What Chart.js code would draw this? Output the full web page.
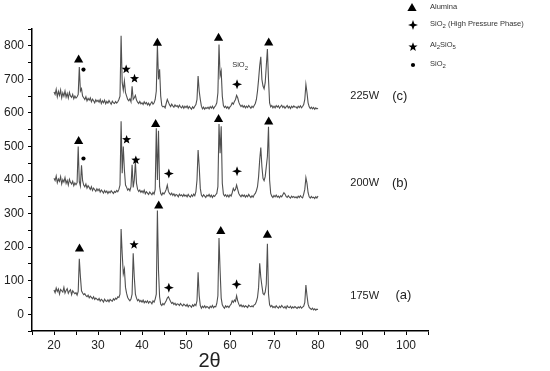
<!DOCTYPE html>
<html>
<head>
<meta charset="utf-8">
<script src="https://cdn.jsdelivr.net/npm/chart.js@4.4.1/dist/chart.umd.min.js"></script>
<style>
  html, body { margin: 0; padding: 0; background: #fff; }
  #wrap { width: 550px; height: 371px; }
</style>
</head>
<body>
<div id="wrap"><canvas id="xrd" width="550" height="371"></canvas></div>
<script>
// balayage 2θ : de 20 à 80 par pas de 0.25
const scanStart = 20, scanStep = 0.25, scanCount = 241;
const twoTheta = [];
for (let i = 0; i < scanCount; i++) twoTheta.push(scanStart + i * scanStep);

// intensités (blocs de 5°)
const w175 = [
  72,64,78,68,75,60,74,70,66,80,63,71,76,62,69,73,58,70,65,61,
  64,57,68,165,112,70,63,58,61,55,52,57,49,54,50,46,52,44,48,45,
  42,47,39,44,41,36,45,40,38,43,37,44,41,39,46,42,48,45,52,50,
  60,254,180,120,135,80,62,50,44,40,45,60,182,110,60,48,40,44,37,41,
  36,42,34,39,35,40,33,38,36,31,40,36,45,60,309,130,52,30,26,32,
  28,34,40,48,52,45,38,32,35,29,33,27,31,30,26,32,28,25,30,27,
  24,29,22,27,25,21,28,24,30,26,40,125,55,26,18,24,20,25,19,23,
  21,17,24,20,26,19,23,22,32,55,227,130,48,28,22,18,25,21,24,20,
  26,30,40,35,42,38,55,40,30,24,28,22,26,21,25,23,20,27,24,22,
  25,22,28,30,38,50,80,152,110,85,62,58,66,90,210,60,28,22,26,20,
  23,19,25,21,18,24,20,26,22,19,23,17,25,21,20,24,18,22,19,23,
  20,17,22,19,23,18,21,24,35,87,55,30,20,17,14,18,13,16,12,15,
  14
];
const w200 = [
  405,398,412,392,403,396,410,388,401,394,407,390,399,385,402,393,388,396,383,391,
  386,392,500,395,382,444,398,385,380,388,376,383,378,372,380,369,376,371,366,374,
  368,373,364,370,366,361,369,363,367,360,366,362,368,364,360,366,363,369,365,372,
  385,575,420,500,430,385,378,370,374,368,380,445,378,400,455,390,372,366,370,363,
  368,362,370,359,365,361,357,364,360,356,363,358,372,554,400,547,380,360,355,362,
  358,364,372,385,366,360,356,361,354,359,352,357,355,350,358,353,356,351,357,352,
  355,350,357,352,349,356,351,358,353,365,400,489,440,375,355,350,356,352,348,355,
  352,357,350,355,348,354,351,356,360,380,567,480,560,390,358,352,356,350,355,349,
  356,352,362,375,368,372,385,372,360,354,350,356,351,355,349,354,350,357,352,348,
  353,349,356,360,368,380,410,460,497,440,405,398,410,440,470,559,400,360,352,348,
  354,350,355,349,352,347,353,350,356,362,358,351,348,353,349,346,352,348,351,347,
  350,346,352,348,353,349,347,358,372,407,390,362,350,346,351,347,349,345,350,346,
  352
];
const w225 = [
  662,655,670,648,664,652,668,645,660,650,665,647,658,644,661,650,646,655,642,650,
  644,648,655,737,665,672,650,645,640,648,636,643,638,645,633,641,636,630,639,634,
  638,632,640,628,636,630,638,627,634,629,637,631,626,635,630,628,634,629,633,640,
  650,830,690,668,695,660,650,640,636,642,633,679,640,645,652,638,632,628,634,627,
  630,625,633,627,631,624,629,622,628,633,626,630,640,665,802,700,730,650,622,618,
  620,615,628,640,632,624,619,626,621,617,624,619,622,616,623,618,615,621,614,620,
  616,621,613,619,615,611,618,614,620,625,640,710,665,640,620,612,617,611,616,613,
  617,612,619,614,620,613,618,622,630,660,804,710,725,650,622,616,620,614,618,612,
  618,622,630,626,634,640,652,645,632,624,619,623,617,621,615,620,616,622,618,614,
  620,616,622,628,640,665,700,740,767,700,680,672,690,740,790,700,630,618,622,615,
  620,615,622,617,621,614,619,623,616,620,614,618,622,615,619,613,620,616,621,617,
  618,614,620,616,621,615,619,625,640,685,660,630,618,613,617,612,616,611,615,612,
  614
];

// repères de phases [2θ, intensité]
const aluminaMarks = [[25.6,762],[43.5,812],[57.4,827],[68.8,813],
                      [25.6,519],[43.1,570],[57.4,585],[68.8,577],
                      [25.8,199],[43.8,327],[57.9,251],[68.5,240]];
const al2sio5Marks = [[36.4,730],[38.3,702],[36.5,520],[38.6,459],[38.2,207]];
const sio2HpMarks = [[61.6,685],[46.1,419],[61.6,426],[46.1,79],[61.5,89]];
const sio2Marks = [[26.7,729],[26.7,464]];

// étiquettes des courbes
const powerLabels = ['225W', '200W', '175W'];
const sampleLabels = ['(c)', '(b)', '(a)'];
const labelLevels = [650, 390, 55];

function toPoints(vals) {
  return vals.map((v, i) => ({ x: twoTheta[i], y: v }));
}

function triangle(ctx, x, y) {
  ctx.beginPath();
  ctx.moveTo(x, y - 4);
  ctx.lineTo(x - 4.6, y + 4);
  ctx.lineTo(x + 4.6, y + 4);
  ctx.closePath();
  ctx.fill();
}
function star5(ctx, x, y) {
  const R = 4.8, r = 2;
  ctx.beginPath();
  for (let k = 0; k < 10; k++) {
    const a = -Math.PI / 2 + k * Math.PI / 5;
    const rad = k % 2 === 0 ? R : r;
    ctx.lineTo(x + rad * Math.cos(a), y + rad * Math.sin(a));
  }
  ctx.closePath();
  ctx.fill();
}
function sparkle(ctx, x, y) {
  const R = 5, r = 1.9;
  ctx.beginPath();
  for (let k = 0; k < 8; k++) {
    const a = -Math.PI / 2 + k * Math.PI / 4;
    const rad = k % 2 === 0 ? R : r;
    ctx.lineTo(x + rad * Math.cos(a), y + rad * Math.sin(a));
  }
  ctx.closePath();
  ctx.fill();
}
function dot(ctx, x, y) {
  ctx.beginPath();
  ctx.arc(x, y, 2.1, 0, Math.PI * 2);
  ctx.fill();
}

// texte avec indices
function subText(ctx, parts, x, y, size) {
  let cx = x;
  parts.forEach(p => {
    const sub = p[1];
    ctx.font = (sub ? size * 0.8 : size) + 'px "Liberation Sans", Arial, sans-serif';
    ctx.fillText(p[0], cx, sub ? y + size * 0.35 : y);
    cx += ctx.measureText(p[0]).width;
  });
}

const decorations = {
  id: 'decorations',
  afterDraw(chart) {
    const ctx = chart.ctx;
    const xs = chart.scales.x, ys = chart.scales.y;
    ctx.save();
    ctx.fillStyle = '#000';
    aluminaMarks.forEach(m => triangle(ctx, xs.getPixelForValue(m[0]), ys.getPixelForValue(m[1])));
    al2sio5Marks.forEach(m => star5(ctx, xs.getPixelForValue(m[0]), ys.getPixelForValue(m[1])));
    sio2HpMarks.forEach(m => sparkle(ctx, xs.getPixelForValue(m[0]), ys.getPixelForValue(m[1])));
    sio2Marks.forEach(m => dot(ctx, xs.getPixelForValue(m[0]), ys.getPixelForValue(m[1])));

    // petit libellé SiO2 au-dessus du pic
    ctx.fillStyle = '#333';
    ctx.textBaseline = 'middle';
    subText(ctx, [['SiO', false], ['2', true]], xs.getPixelForValue(60.5), ys.getPixelForValue(742), 7.5);

    // libellés des échantillons
    ctx.fillStyle = '#222';
    ctx.textAlign = 'center';
    powerLabels.forEach((t, i) => {
      ctx.font = '11px "Liberation Sans", Arial, sans-serif';
      ctx.fillText(t, xs.getPixelForValue(90.6), ys.getPixelForValue(labelLevels[i]));
      ctx.font = '13px "Liberation Sans", Arial, sans-serif';
      ctx.fillText(sampleLabels[i], xs.getPixelForValue(i === 2 ? 99.4 : 98.6), ys.getPixelForValue(labelLevels[i]));
    });

    // titre de l'axe x
    ctx.font = '20px "Liberation Sans", Arial, sans-serif';
    ctx.fillText('2θ', 209.5, 361);

    // légende
    ctx.textAlign = 'left';
    ctx.fillStyle = '#000';
    triangle(ctx, 412, 7);
    sparkle(ctx, 413, 25);
    star5(ctx, 413, 47);
    dot(ctx, 413, 65);
    ctx.fillStyle = '#333';
    subText(ctx, [['Alumina', false]], 430, 7, 7.5);
    subText(ctx, [['SiO', false], ['2', true], [' (High Pressure Phase)', false]], 430, 24, 7.5);
    subText(ctx, [['Al', false], ['2', true], ['SiO', false], ['5', true]], 430, 45, 7.5);
    subText(ctx, [['SiO', false], ['2', true]], 430, 64, 7.5);
    ctx.restore();
  }
};

const traceStyle = { borderColor: '#505050', borderWidth: 1.1, pointRadius: 0, tension: 0, fill: false };

new Chart(document.getElementById('xrd').getContext('2d'), {
  type: 'line',
  data: {
    datasets: [
      Object.assign({ label: '225W', data: toPoints(w225) }, traceStyle),
      Object.assign({ label: '200W', data: toPoints(w200) }, traceStyle),
      Object.assign({ label: '175W', data: toPoints(w175) }, traceStyle)
    ]
  },
  options: {
    responsive: false,
    animation: false,
    layout: { padding: { top: 29, right: 122, left: 0, bottom: 0 } },
    plugins: { legend: { display: false }, tooltip: { enabled: false } },
    scales: {
      x: {
        type: 'linear',
        min: 15, max: 105,
        afterFit(s) { s.height = 40; },
        border: { display: true, color: '#000', width: 1.5 },
        grid: { display: true, drawOnChartArea: false, drawTicks: true, tickLength: 4, color: '#000' },
        ticks: {
          stepSize: 5, autoSkip: false, maxRotation: 0, padding: 3,
          color: '#222', font: { size: 12, family: '"Liberation Sans", Arial, sans-serif' },
          callback: v => (v % 10 === 0 ? v : '')
        }
      },
      y: {
        min: -50, max: 850,
        afterFit(s) { s.width = 32; },
        border: { display: true, color: '#000', width: 1.5 },
        grid: { display: true, drawOnChartArea: false, drawTicks: true, tickLength: 4, color: '#000' },
        ticks: {
          stepSize: 50, autoSkip: false, padding: 4,
          color: '#222', font: { size: 12, family: '"Liberation Sans", Arial, sans-serif' },
          callback: v => (v % 100 === 0 ? v : '')
        }
      }
    }
  },
  plugins: [decorations]
});
</script>
</body>
</html>
